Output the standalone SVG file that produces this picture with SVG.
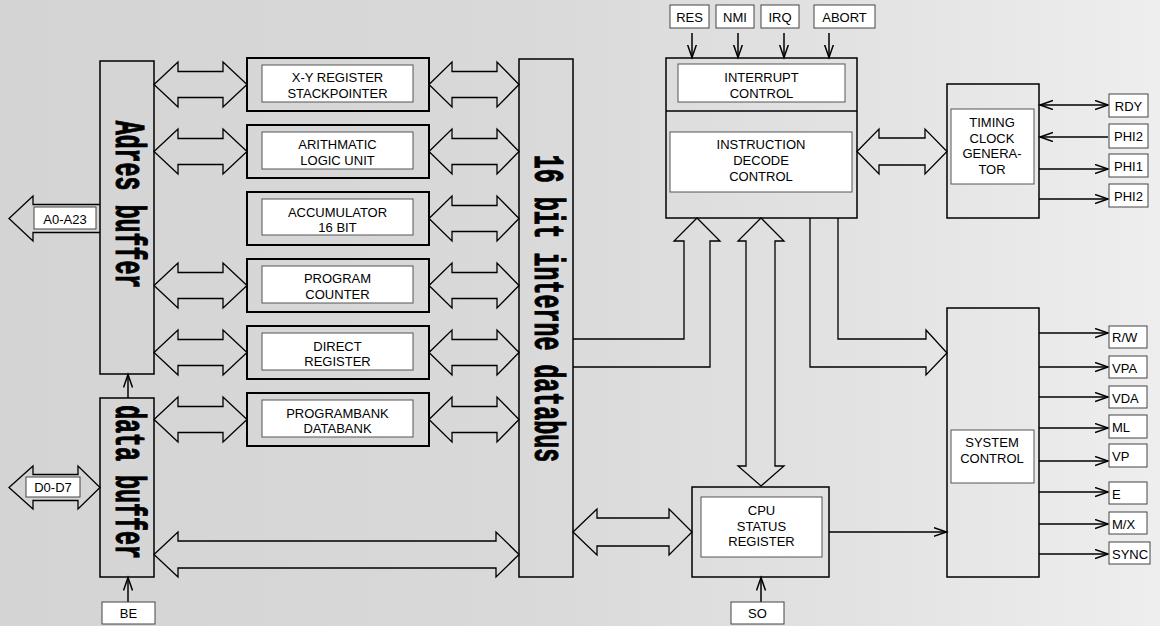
<svg xmlns="http://www.w3.org/2000/svg" width="1160" height="626" viewBox="0 0 1160 626">
<defs>
<linearGradient id="bg" x1="0" y1="0" x2="1" y2="0">
<stop offset="0" stop-color="#d4d4d4"/>
<stop offset="0.45" stop-color="#d9d9d9"/>
<stop offset="0.75" stop-color="#e3e3e3"/>
<stop offset="1" stop-color="#eeeeee"/>
</linearGradient>
<marker id="ah" markerUnits="userSpaceOnUse" markerWidth="16" markerHeight="12" refX="13" refY="5" orient="auto-start-reverse" viewBox="0 0 16 12">
<path d="M0,0.5 L13,5 L0,9.5" fill="none" stroke="#000" stroke-width="1.5"/>
</marker>
<style>
.box{fill:none;stroke:#000;stroke-width:1.5}
.reg{fill:none;stroke:#000;stroke-width:2}
.inner{fill:#fff;stroke:#555;stroke-width:1}
.lbl{fill:#fff;stroke:#444;stroke-width:1}
.blk{fill:none;stroke:#000;stroke-width:1.3;stroke-linejoin:miter}
.ln{fill:none;stroke:#000;stroke-width:1.5}
.arr{fill:none;stroke:#000;stroke-width:1.5;marker-end:url(#ah)}
.arr2{fill:none;stroke:#000;stroke-width:1.5;marker-end:url(#ah);marker-start:url(#ah)}
.t{font-family:"Liberation Sans",Arial,sans-serif;font-size:13px;fill:#000;text-anchor:middle}
.tl{font-family:"Liberation Sans",Arial,sans-serif;font-size:13px;fill:#000;text-anchor:start}
.vt{font-family:"Liberation Mono","Courier New",monospace;font-weight:bold;font-size:23.3px;fill:#000;stroke:#000;stroke-width:0.6;text-anchor:middle}
</style>
</defs>
<rect x="0" y="0" width="1160" height="626" fill="url(#bg)"/>

<g id="connectors">
<path class="blk" d="M154,84.5 L178,62 L178,71.5 L223,71.5 L223,62 L247,84.5 L223,107 L223,97.5 L178,97.5 L178,107 Z"/>
<path class="blk" d="M154,151.5 L178,129 L178,138.5 L223,138.5 L223,129 L247,151.5 L223,174 L223,164.5 L178,164.5 L178,174 Z"/>
<path class="blk" d="M154,285.5 L178,263 L178,272.5 L223,272.5 L223,263 L247,285.5 L223,308 L223,298.5 L178,298.5 L178,308 Z"/>
<path class="blk" d="M154,352.5 L178,330 L178,339.5 L223,339.5 L223,330 L247,352.5 L223,375 L223,365.5 L178,365.5 L178,375 Z"/>
<path class="blk" d="M154,419.5 L178,397 L178,406.5 L223,406.5 L223,397 L247,419.5 L223,442 L223,432.5 L178,432.5 L178,442 Z"/>
<path class="blk" d="M429,84.5 L452,62 L452,71.5 L497,71.5 L497,62 L519,84.5 L497,107 L497,97.5 L452,97.5 L452,107 Z"/>
<path class="blk" d="M429,151.5 L452,129 L452,138.5 L497,138.5 L497,129 L519,151.5 L497,174 L497,164.5 L452,164.5 L452,174 Z"/>
<path class="blk" d="M429,218.5 L452,196 L452,205.5 L497,205.5 L497,196 L519,218.5 L497,241 L497,231.5 L452,231.5 L452,241 Z"/>
<path class="blk" d="M429,285.5 L452,263 L452,272.5 L497,272.5 L497,263 L519,285.5 L497,308 L497,298.5 L452,298.5 L452,308 Z"/>
<path class="blk" d="M429,352.5 L452,330 L452,339.5 L497,339.5 L497,330 L519,352.5 L497,375 L497,365.5 L452,365.5 L452,375 Z"/>
<path class="blk" d="M429,419.5 L452,397 L452,406.5 L497,406.5 L497,397 L519,419.5 L497,442 L497,432.5 L452,432.5 L452,442 Z"/>
<path class="blk" d="M154,554.5 L178,532 L178,541 L496,541 L496,532 L519,554.5 L496,577 L496,568 L178,568 L178,577 Z"/>
<path class="blk" d="M100,204.5 L33,204.5 L33,196 L9,218.5 L33,241 L33,232.5 L100,232.5"/>
<path class="blk" d="M9,487.5 L33,466 L33,474.5 L78,474.5 L78,466 L100,487.5 L78,509 L78,500.5 L33,500.5 L33,509 Z"/>
<path class="blk" d="M573,339 L684,339 L684,241 L674,241 L697,218 L720,241 L710,241 L710,367 L573,367"/>
<path class="blk" d="M761,218 L784,241 L775,241 L775,466 L784,466 L761,486 L738,466 L746,466 L746,241 L738,241 Z"/>
<path class="blk" d="M838,218 L838,339 L926,339 L926,330 L947,353 L926,375 L926,367 L810,367 L810,218"/>
<path class="blk" d="M857,151.5 L879,129 L879,138 L925,138 L925,129 L947,151.5 L925,174 L925,165 L879,165 L879,174 Z"/>
<path class="blk" d="M573,532 L597,509 L597,518 L669,518 L669,509 L692,532 L669,555 L669,546 L597,546 L597,555 Z"/>
<line class="arr" x1="128" y1="398" x2="128" y2="374.5"/>
<line class="arr" x1="128" y1="602" x2="128" y2="577.5"/>
<line class="arr" x1="761" y1="602" x2="761" y2="577.5"/>
<line class="arr" x1="692" y1="33" x2="692" y2="57.5"/>
<line class="arr" x1="738" y1="33" x2="738" y2="57.5"/>
<line class="arr" x1="784" y1="33" x2="784" y2="57.5"/>
<line class="arr" x1="829" y1="33" x2="829" y2="57.5"/>
<line class="arr" x1="829" y1="532" x2="946.5" y2="532"/>
<line class="arr2" x1="1040" y1="105" x2="1108" y2="105"/>
<line class="arr" x1="1108" y1="137" x2="1040" y2="137"/>
<line class="arr" x1="1039" y1="169" x2="1108" y2="169"/>
<line class="arr" x1="1039" y1="199" x2="1108" y2="199"/>
<line class="arr" x1="1039" y1="333" x2="1108" y2="333"/>
<line class="arr" x1="1039" y1="367" x2="1108" y2="367"/>
<line class="arr" x1="1039" y1="397" x2="1108" y2="397"/>
<line class="arr" x1="1039" y1="428" x2="1108" y2="428"/>
<line class="arr" x1="1039" y1="461" x2="1108" y2="461"/>
<line class="arr" x1="1039" y1="492" x2="1108" y2="492"/>
<line class="arr" x1="1039" y1="524" x2="1108" y2="524"/>
<line class="arr" x1="1039" y1="554" x2="1108" y2="554"/>
</g>

<g id="adres-buffer">
<rect class="box" x="100" y="61" width="54" height="313"/>
<text class="vt" transform="translate(116,204.5) rotate(90) scale(1,1.85)">Adres buffer</text>
</g>
<g id="data-buffer">
<rect class="box" x="100" y="398" width="54" height="179"/>
<text class="vt" transform="translate(116,482) rotate(90) scale(1,1.85)">data buffer</text>
</g>
<g id="databus">
<rect class="box" x="519" y="59" width="54" height="518"/>
<text class="vt" transform="translate(535,308.5) rotate(90) scale(1,1.85)">16 bit interne databus</text>
</g>

<g id="a0-a23"><rect class="lbl" x="34" y="207" width="62" height="22"/><text class="t" x="65" y="223.5">A0-A23</text></g>
<g id="d0-d7"><rect class="lbl" x="26" y="477" width="54" height="20"/><text class="t" x="53" y="491.5">D0-D7</text></g>
<g id="be"><rect class="lbl" x="102" y="602" width="53" height="22"/><text class="t" x="128.5" y="618">BE</text></g>

<g id="xy-register">
<rect class="reg" x="247" y="58" width="182" height="53"/>
<rect class="inner" x="262" y="65" width="151" height="37"/>
<text class="t" x="337.5" y="82">X-Y REGISTER</text>
<text class="t" x="337.5" y="98">STACKPOINTER</text>
</g>
<g id="alu">
<rect class="reg" x="247" y="125" width="182" height="53"/>
<rect class="inner" x="262" y="132" width="151" height="37"/>
<text class="t" x="337.5" y="149">ARITHMATIC</text>
<text class="t" x="337.5" y="164.5">LOGIC UNIT</text>
</g>
<g id="accumulator">
<rect class="reg" x="247" y="192" width="182" height="53"/>
<rect class="inner" x="262" y="199" width="151" height="36"/>
<text class="t" x="337.5" y="216.5">ACCUMULATOR</text>
<text class="t" x="337.5" y="232">16 BIT</text>
</g>
<g id="program-counter">
<rect class="reg" x="247" y="259" width="182" height="53"/>
<rect class="inner" x="262" y="266" width="151" height="37"/>
<text class="t" x="337.5" y="283">PROGRAM</text>
<text class="t" x="337.5" y="298.5">COUNTER</text>
</g>
<g id="direct-register">
<rect class="reg" x="247" y="326" width="182" height="53"/>
<rect class="inner" x="262" y="333" width="151" height="37"/>
<text class="t" x="337.5" y="350.5">DIRECT</text>
<text class="t" x="337.5" y="366">REGISTER</text>
</g>
<g id="programbank">
<rect class="reg" x="247" y="393" width="182" height="53"/>
<rect class="inner" x="262" y="400" width="151" height="37"/>
<text class="t" x="337.5" y="417.5">PROGRAMBANK</text>
<text class="t" x="337.5" y="433">DATABANK</text>
</g>

<g id="interrupt-instruction">
<rect class="box" x="666" y="58" width="191" height="160"/>
<line class="ln" x1="666" y1="111" x2="857" y2="111"/>
<rect class="inner" x="678" y="64" width="167" height="38"/>
<text class="t" x="761.5" y="82">INTERRUPT</text>
<text class="t" x="761.5" y="98">CONTROL</text>
<rect class="inner" x="670" y="132" width="182" height="60"/>
<text class="t" x="761" y="149">INSTRUCTION</text>
<text class="t" x="761" y="165">DECODE</text>
<text class="t" x="761" y="180.5">CONTROL</text>
</g>
<g id="res"><rect class="lbl" x="670" y="5" width="39" height="23"/><text class="t" x="689.5" y="21.5">RES</text></g>
<g id="nmi"><rect class="lbl" x="716" y="5" width="38" height="23"/><text class="t" x="735" y="21.5">NMI</text></g>
<g id="irq"><rect class="lbl" x="761" y="5" width="38" height="23"/><text class="t" x="780" y="21.5">IRQ</text></g>
<g id="abort"><rect class="lbl" x="814" y="5" width="61" height="23"/><text class="t" x="844.5" y="21.5">ABORT</text></g>

<g id="timing">
<rect class="box" x="947" y="84" width="92" height="134"/>
<rect class="inner" x="951" y="109" width="83" height="75"/>
<text class="t" x="992" y="127">TIMING</text>
<text class="t" x="992" y="143">CLOCK</text>
<text class="t" x="992" y="158">GENERA-</text>
<text class="t" x="992" y="173.5">TOR</text>
</g>
<g id="rdy"><rect class="lbl" x="1109" y="94" width="39" height="23"/><text class="t" x="1128.5" y="111">RDY</text></g>
<g id="phi2-in"><rect class="lbl" x="1109" y="124" width="39" height="24"/><text class="t" x="1128.5" y="141">PHI2</text></g>
<g id="phi1"><rect class="lbl" x="1109" y="154" width="39" height="23"/><text class="t" x="1128.5" y="171">PHI1</text></g>
<g id="phi2-out"><rect class="lbl" x="1109" y="184" width="39" height="23"/><text class="t" x="1128.5" y="201">PHI2</text></g>

<g id="system-control">
<rect class="box" x="947" y="308" width="92" height="269"/>
<rect class="inner" x="951" y="430" width="83" height="53"/>
<text class="t" x="992" y="447">SYSTEM</text>
<text class="t" x="992" y="462.5">CONTROL</text>
</g>
<g id="rw"><rect class="lbl" x="1109" y="326" width="38" height="22"/><text class="tl" x="1112" y="342">R/W</text></g>
<g id="vpa"><rect class="lbl" x="1109" y="356" width="38" height="22"/><text class="tl" x="1112" y="372.5">VPA</text></g>
<g id="vda"><rect class="lbl" x="1109" y="386" width="38" height="22"/><text class="tl" x="1112" y="402.5">VDA</text></g>
<g id="ml"><rect class="lbl" x="1109" y="415" width="38" height="23"/><text class="tl" x="1112" y="432">ML</text></g>
<g id="vp"><rect class="lbl" x="1109" y="444" width="38" height="23"/><text class="tl" x="1112" y="461">VP</text></g>
<g id="e"><rect class="lbl" x="1109" y="482" width="38" height="22"/><text class="tl" x="1112" y="499">E</text></g>
<g id="mx"><rect class="lbl" x="1109" y="512" width="38" height="22"/><text class="tl" x="1112" y="529">M/X</text></g>
<g id="sync"><rect class="lbl" x="1109" y="542" width="41" height="22"/><text class="tl" x="1112" y="559">SYNC</text></g>

<g id="cpu-status">
<rect class="box" x="692" y="487" width="137" height="90"/>
<rect class="inner" x="701" y="497" width="121" height="60"/>
<text class="t" x="761.5" y="515">CPU</text>
<text class="t" x="761.5" y="530.5">STATUS</text>
<text class="t" x="761.5" y="546">REGISTER</text>
</g>
<g id="so"><rect class="lbl" x="731" y="602" width="53" height="22"/><text class="t" x="757.5" y="618">SO</text></g>
</svg>
